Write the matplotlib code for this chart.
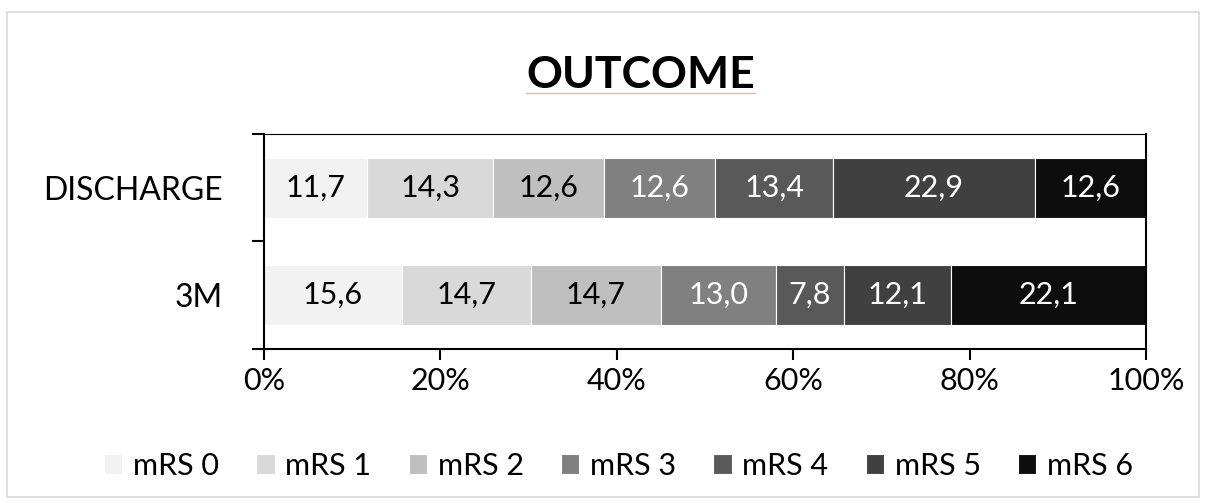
import matplotlib.pyplot as plt
import numpy as np
from matplotlib.patches import Rectangle
from matplotlib.lines import Line2D

plt.rcParams['font.family'] = ['Lato', 'DejaVu Sans']

# Outcome distribution (modified Rankin Scale), percentages per time point
groups = ['3M', 'DISCHARGE']
classes = ['mRS 0', 'mRS 1', 'mRS 2', 'mRS 3', 'mRS 4', 'mRS 5', 'mRS 6']
discharge = [11.7, 14.3, 12.6, 12.6, 13.4, 22.9, 12.6]
three_months = [15.6, 14.7, 14.7, 13.0, 7.8, 12.1, 22.1]

colors = ['#f2f2f2', '#d9d9d9', '#bfbfbf', '#808080', '#595959', '#404040', '#0d0d0d']
text_colors = ['black', 'black', 'black', 'white', 'white', 'white', 'white']

values = np.array([three_months, discharge])
# 100% stacked: scale each row to its total
shares = values / values.sum(axis=1, keepdims=True) * 100

fig = plt.figure(figsize=(12.06, 5.03), dpi=100)
ax = fig.add_axes([0.2189, 0.3062, 0.7313, 0.4274])

y = np.arange(len(groups))
left = np.zeros(len(groups))
for i, name in enumerate(classes):
    bars = ax.barh(y, shares[:, i], left=left, height=0.56, color=colors[i],
                   edgecolor='white', linewidth=0.8, label=name)
    for j, b in enumerate(bars):
        ax.text(b.get_x() + b.get_width() / 2, b.get_y() + b.get_height() / 2,
                f'{values[j, i]:.1f}'.replace('.', ','), ha='center', va='center',
                fontsize=22, color=text_colors[i])
    left += shares[:, i]

ax.set_xlim(0, 100)
ax.set_ylim(-0.5, 1.5)
ax.set_xticks(np.arange(0, 101, 20))
ax.set_xticklabels([f'{v}%' for v in range(0, 101, 20)], fontsize=22)
ax.tick_params(axis='x', direction='out', length=8, width=1.5, pad=5)

# category ticks sit between the bars, labels centred on them
ax.set_yticks([-0.5, 0.5, 1.5])
ax.set_yticklabels([])
ax.set_yticks(y, minor=True)
ax.set_yticklabels(groups, minor=True, fontsize=23)
ax.tick_params(axis='y', which='major', direction='out', length=8.5, width=1.5)
ax.tick_params(axis='y', which='minor', length=0, pad=30)

for side in ['left', 'bottom', 'right']:
    ax.spines[side].set_linewidth(1.5)
ax.spines['top'].set_linewidth(0.8)

title = fig.text(0.531, 0.85, 'OUTCOME', ha='center', va='center',
                 fontsize=32, fontweight='bold')

fig.legend(loc='center', bbox_to_anchor=(0.513, 0.074), ncol=7, frameon=False,
           fontsize=22, handlelength=0.6, handleheight=0.6, handletextpad=0.35,
           columnspacing=1.22)

# thin red underline beneath the title
fig.canvas.draw()
bb = title.get_window_extent().transformed(fig.transFigure.inverted())
fig.add_artist(Line2D([bb.x0, bb.x1], [bb.y0 + 0.005, bb.y0 + 0.005],
                      transform=fig.transFigure, color='#f2b0b0', linewidth=1))

# chart border
fig.add_artist(Rectangle((0.006, 0.012), 0.988, 0.964, transform=fig.transFigure,
                         fill=False, edgecolor='#d9d9d9', linewidth=1.2))

fig.savefig('out.png', dpi=100)
